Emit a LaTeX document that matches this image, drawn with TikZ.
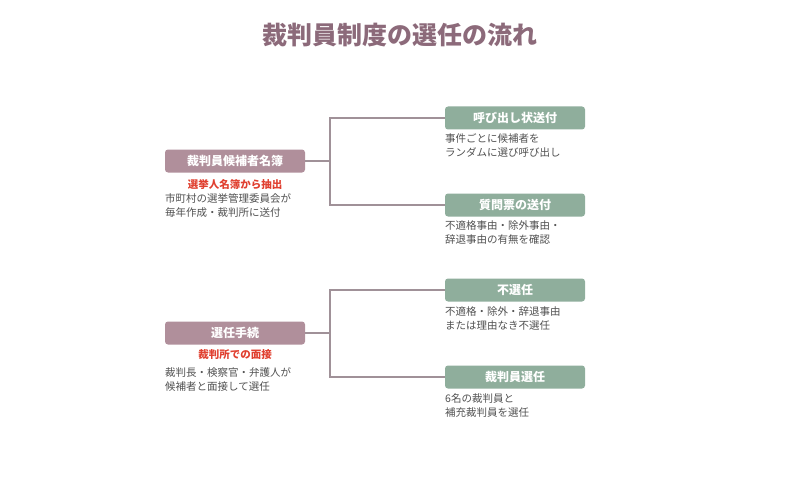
\documentclass[tikz,border=0pt]{standalone}
\usepackage{fontspec}
\setmainfont{Noto Sans CJK JP}
\usetikzlibrary{positioning}
\definecolor{title_mauve}{RGB}{140, 106, 122}
\definecolor{step_mauve}{RGB}{176, 143, 155}
\definecolor{result_green}{RGB}{143, 174, 156}
\definecolor{line_gray}{RGB}{160, 145, 152}
\definecolor{note_red}{RGB}{224, 64, 48}
\definecolor{note_gray}{RGB}{80, 80, 80}

\begin{document}
\begin{tikzpicture}[
    x=1pt, y=-1pt,
    step/.style={
        rectangle,
        fill=#1,
        minimum width=140pt,
        minimum height=23pt,
        text=white,
        rounded corners=3pt,
        font=\fontsize{12}{14}\selectfont\bfseries
    },
    note/.style={
        anchor=north west,
        align=left,
        inner sep=0pt,
        text=note_gray,
        font=\fontsize{10.5}{14.5}\selectfont
    },
    pick/.style={
        inner sep=0pt,
        text=note_red,
        font=\fontsize{10.5}{12}\selectfont\bfseries
    },
    branch/.style={
        draw=line_gray,
        line width=1.5pt
    }
]
\useasboundingbox (0,0) rectangle (800,500);

% Title
\node[text=title_mauve, font=\fontsize{25}{28}\selectfont\bfseries] (title) at (400,35) {裁判員制度の選任の流れ};

% Upper stage
\node[step=step_mauve] (roster) at (235,161) {裁判員候補者名簿};
\node[pick] (roster_pick) at (235,184) {選挙人名簿から抽出};
\node[note] (roster_note) at (165,193) {市町村の選挙管理委員会が\\毎年作成・裁判所に送付};

\node[step=result_green] (summon) at (515,118) {呼び出し状送付};
\node[note] (summon_note) at (445,133) {事件ごとに候補者を\\ランダムに選び呼び出し};
\node[step=result_green] (quest) at (515,205) {質問票の送付};
\node[note] (quest_note) at (445,220) {不適格事由・除外事由・\\辞退事由の有無を確認};

% Lower stage
\node[step=step_mauve] (select) at (235,333) {選任手続};
\node[pick] (select_pick) at (235,355) {裁判所での面接};
\node[note] (select_note) at (165,367) {裁判長・検察官・弁護人が\\候補者と面接して選任};

\node[step=result_green] (reject) at (515,290) {不選任};
\node[note] (reject_note) at (445,306) {不適格・除外・辞退事由\\または理由なき不選任};
\node[step=result_green] (chosen) at (515,377) {裁判員選任};
\node[note] (chosen_note) at (445,393) {6名の裁判員と\\補充裁判員を選任};

% Branch lines
\coordinate (fork1) at (330,161);
\coordinate (fork2) at (330,333);
\draw[branch] (roster.east) -- (fork1);
\draw[branch] (summon.west) -| (fork1) |- (quest.west);
\draw[branch] (select.east) -- (fork2);
\draw[branch] (reject.west) -| (fork2) |- (chosen.west);

\end{tikzpicture}
\end{document}
